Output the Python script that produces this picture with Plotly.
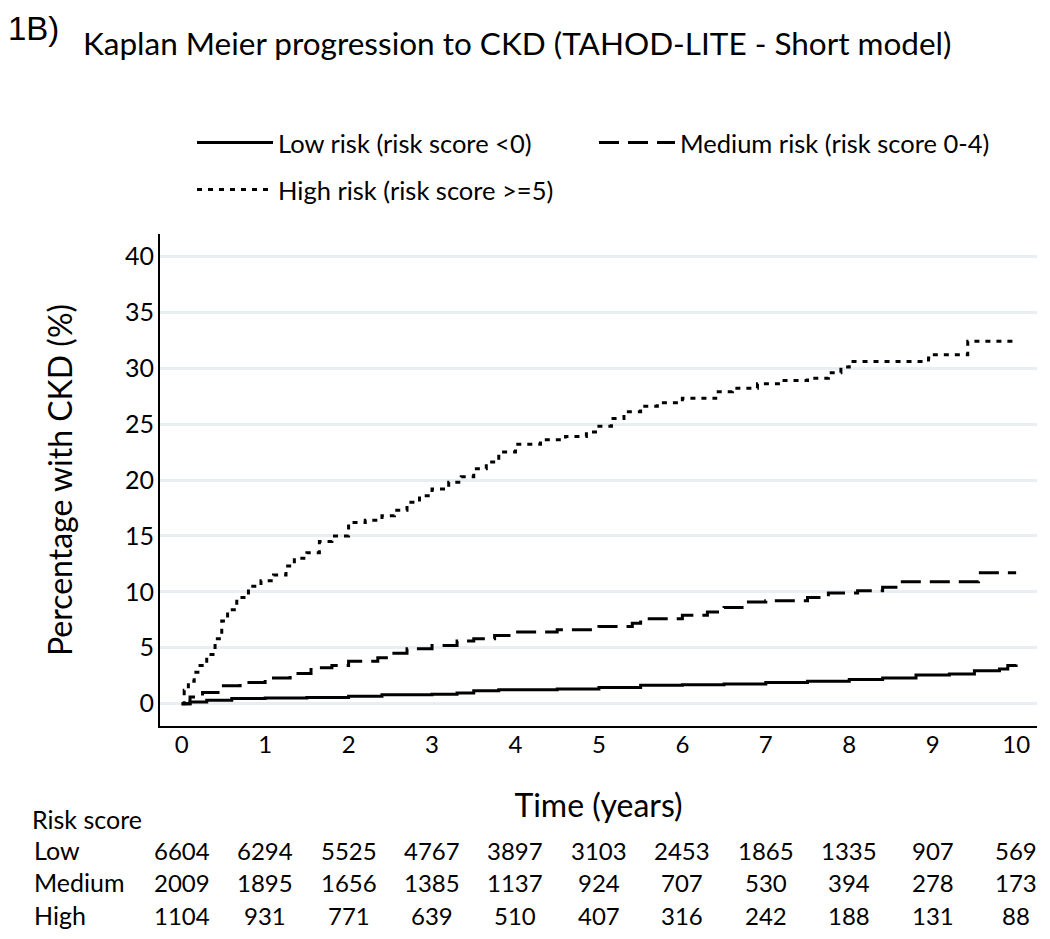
import plotly.graph_objects as go

# ---------------- data ----------------
low_t = [0, 0.1, 0.3, 0.6, 1.0, 1.5, 2.0, 2.4, 3.0, 3.3, 3.5, 3.8, 4.5, 5.0, 5.5, 6.0, 6.5, 7.0, 7.5, 8.0, 8.4, 8.8, 9.2, 9.5, 9.8, 9.9, 10.0]
low_v = [0, 0.15, 0.3, 0.45, 0.5, 0.55, 0.65, 0.8, 0.85, 0.95, 1.15, 1.25, 1.3, 1.45, 1.65, 1.7, 1.75, 1.9, 2.0, 2.15, 2.3, 2.55, 2.65, 2.95, 3.1, 3.4, 3.5]

med_t = [0, 0.1, 0.25, 0.5, 0.7, 1.0, 1.3, 1.55, 1.8, 2.0, 2.35, 2.5, 2.7, 3.0, 3.3, 3.5, 3.75, 4.0, 4.5, 5.0, 5.4, 5.5, 6.0, 6.3, 6.5, 6.75, 7.0, 7.5, 7.75, 8.1, 8.4, 8.6, 9.55, 10.0]
med_v = [0, 0.6, 1.0, 1.6, 1.9, 2.3, 2.7, 3.2, 3.4, 3.8, 4.1, 4.5, 4.9, 5.2, 5.6, 5.8, 6.1, 6.4, 6.6, 6.9, 7.2, 7.6, 7.9, 8.2, 8.6, 9.1, 9.2, 9.5, 9.9, 10.1, 10.4, 10.9, 11.7, 11.7]

high_t = [0, 0.03, 0.08, 0.15, 0.22, 0.3, 0.4, 0.48, 0.55, 0.66, 0.8, 0.95, 1.1, 1.25, 1.35, 1.5, 1.65, 1.8, 2.0, 2.2, 2.4, 2.55, 2.7, 2.85, 3.0, 3.2, 3.35, 3.5, 3.65, 3.8, 4.0, 4.3, 4.6, 4.85, 5.0, 5.15, 5.3, 5.5, 5.7, 6.0, 6.4, 6.6, 6.9, 7.2, 7.5, 7.75, 7.9, 8.0, 8.95, 9.0, 9.42, 10.0]
high_v = [0, 1.2, 2.0, 2.8, 3.4, 4.4, 5.8, 7.4, 8.4, 9.5, 10.5, 11.0, 11.5, 12.3, 13.0, 13.5, 14.5, 15.0, 16.2, 16.4, 16.8, 17.3, 18.0, 18.6, 19.2, 19.8, 20.3, 21.0, 21.6, 22.5, 23.2, 23.6, 23.9, 24.3, 24.8, 25.5, 26.1, 26.6, 26.9, 27.3, 27.9, 28.2, 28.6, 28.9, 29.1, 29.6, 30.1, 30.6, 30.9, 31.2, 32.4, 32.4]

series_names = ["Low risk (risk score <0)", "Medium risk (risk score 0-4)", "High risk (risk score >=5)"]

risk_times = [0, 1, 2, 3, 4, 5, 6, 7, 8, 9, 10]
risk_groups = ["Low", "Medium", "High"]
risk_low = [6604, 6294, 5525, 4767, 3897, 3103, 2453, 1865, 1335, 907, 569]
risk_med = [2009, 1895, 1656, 1385, 1137, 924, 707, 530, 394, 278, 173]
risk_high = [1104, 931, 771, 639, 510, 407, 316, 242, 188, 131, 88]

x_ticks = list(range(0, 11))
y_ticks = [0, 5, 10, 15, 20, 25, 30, 35, 40]

FONT = "Lato"

fig = go.Figure()
fig.add_trace(go.Scatter(x=low_t, y=low_v, mode="lines", line_shape="hv", name=series_names[0],
                         line=dict(color="black", width=3, dash="solid"), legend="legend"))
fig.add_trace(go.Scatter(x=med_t, y=med_v, mode="lines", line_shape="hv", name=series_names[1],
                         line=dict(color="black", width=3, dash="20px,9px"), legend="legend"))
fig.add_trace(go.Scatter(x=high_t, y=high_v, mode="lines", line_shape="hv", name=series_names[2],
                         line=dict(color="black", width=3, dash="5px,6px"), legend="legend2"))

# page body has an 8px margin, so the figure is 8px smaller
OFF = 8
W, H = 1050 - OFF, 939 - OFF
L, R, T, B = 160 - OFF, 13, 234 - OFF, 213
PLOT_TOP, PLOT_BOTTOM, PLOT_LEFT = 234, 726, 160
PH = PLOT_BOTTOM - PLOT_TOP
PW = W - L - R


def py(ypx):
    return (PLOT_BOTTOM - ypx) / PH


def px(xpx):
    return (xpx - PLOT_LEFT) / PW


annotations = []
annotations.append(dict(text="1B)", x=px(6), y=py(29), xref="paper", yref="paper", xanchor="left",
                        yanchor="middle", showarrow=False, font=dict(family="Liberation Sans", size=33, color="black")))
annotations.append(dict(text="Risk score", x=px(30), y=py(819), xref="paper", yref="paper", xanchor="left",
                        yanchor="middle", showarrow=False, font=dict(family=FONT, size=25, color="black")))
row_y = [850, 882, 915]
for g, vals, yy in zip(risk_groups, [risk_low, risk_med, risk_high], row_y):
    annotations.append(dict(text=g, x=px(32), y=py(yy), xref="paper", yref="paper", xanchor="left",
                            yanchor="middle", showarrow=False, font=dict(family=FONT, size=25, color="black")))
    for t, v in zip(risk_times, vals):
        annotations.append(dict(text=str(v), x=t, y=py(yy), xref="x", yref="paper", xanchor="center",
                                yanchor="middle", showarrow=False, font=dict(family=FONT, size=24, color="black")))

fig.update_layout(
    width=W, height=H,
    margin=dict(l=L, r=R, t=T, b=B),
    paper_bgcolor="white", plot_bgcolor="white",
    font=dict(family=FONT, size=24, color="black"),
    title=dict(text="Kaplan Meier progression to CKD (TAHOD-LITE - Short model)",
               x=(83 - OFF) / W, xref="container", xanchor="left", y=1 - (44 - OFF) / H, yref="container",
               yanchor="middle", font=dict(family=FONT, size=31.5, color="black")),
    showlegend=True,
    legend=dict(orientation="h", x=px(192), xref="paper", y=py(143), yref="paper", yanchor="middle",
                xanchor="left", entrywidth=311, entrywidthmode="pixels", itemwidth=76,
                font=dict(family=FONT, size=25.5, color="black"), bgcolor="rgba(0,0,0,0)", traceorder="normal"),
    legend2=dict(orientation="h", x=px(192), xref="paper", y=py(190), yref="paper", yanchor="middle",
                 xanchor="left", itemwidth=76,
                 font=dict(family=FONT, size=25.5, color="black"), bgcolor="rgba(0,0,0,0)"),
    xaxis=dict(range=[-0.26, 10.25], tickvals=x_ticks, ticktext=[str(v) for v in x_ticks],
               showgrid=False, zeroline=False, showline=True, linecolor="black", linewidth=2,
               ticks="", ticklabelstandoff=-4, tickfont=dict(family=FONT, size=24, color="black"),
               title=dict(text="Time (years)", font=dict(family=FONT, size=32, color="black"), standoff=38)),
    yaxis=dict(range=[-2, 42], tickvals=y_ticks, ticktext=[str(v) for v in y_ticks],
               showgrid=True, gridcolor="#e8eef1", gridwidth=3, zeroline=False,
               showline=True, linecolor="black", linewidth=2, ticks="", ticklabelstandoff=-1,
               tickfont=dict(family=FONT, size=25, color="black"),
               title=dict(text="Percentage with CKD (%)", font=dict(family=FONT, size=32, color="black"), standoff=43)),
    annotations=annotations,
)

fig.write_html("out.html")
